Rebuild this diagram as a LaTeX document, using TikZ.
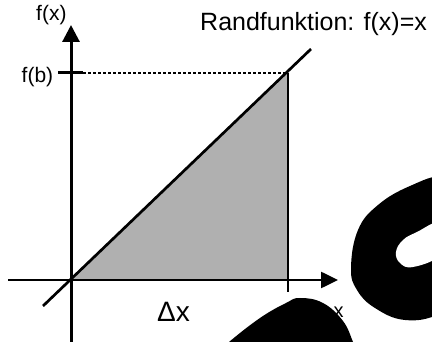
\documentclass[tikz,border=0pt]{standalone}
\usepackage{fontspec}
\setmainfont{Liberation Sans}
\usetikzlibrary{arrows.meta}
\begin{document}
\begin{tikzpicture}[x=1pt,y=-1pt,
  axis/.style={line width=3pt,-{Triangle[length=17pt,width=17pt]}},
  lbl/.style={inner sep=0pt,anchor=base west},
  blob/.style={fill=black,draw=none}]
\useasboundingbox (0,0) rectangle (432,342);
% coordinates
\coordinate (O) at (71,280);
\coordinate (ytop) at (71,25);
\coordinate (ybot) at (71,342);
\coordinate (xleft) at (8,280);
\coordinate (xright) at (338,280);
\coordinate (B) at (288,73);
\coordinate (Bx) at (288,280);
\coordinate (Bt) at (288,292);
\coordinate (fbL) at (58,73);
\coordinate (fbR) at (83,73);
\coordinate (dstart) at (43,306);
\coordinate (dend) at (311,49);
% shaded area
\fill[fill={rgb,255:red,176;green,176;blue,176}] (O) -- (B) -- (Bx) -- cycle;
% axes
\draw[line width=2.6pt,-{Triangle[length=17pt,width=16pt]}] (xleft) -- (xright);
\draw[axis] (ybot) -- (ytop);
% diagonal
\draw[line width=2.7pt] (dstart) -- (dend);
% right edge
\draw[line width=1.7pt] (B) -- (Bt);
% f(b) tick and dashed line
\draw[line width=3pt] (fbL) -- (fbR);
\draw[line width=1.1pt,dash pattern=on 3pt off 2pt] (fbR) -- (B);
% labels
\node[lbl,font=\fontsize{21}{21}\selectfont] (fx) at (36,21) {f(x)};
\node[lbl,font=\fontsize{21}{21}\selectfont] (fb) at (21.5,83) {f(b)};
\node[lbl,font=\fontsize{25}{25}\selectfont] (rf) at (200,31) {Randfunktion: f(x)=x};
\node[lbl,font=\fontsize{28}{28}\selectfont] (dx) at (157,322) {Δx};
% blobs
\begin{scope}
\clip (0,0) rectangle (432,342);
\fill[black] plot[smooth cycle,tension=0.7] coordinates {(351,268) (358,230) (378,205) (410,186) (445,176) (475,190) (480,290) (440,314) (405,320) (375,308) (357,290)};
\fill[white] plot[smooth cycle,tension=0.7] coordinates {(396,252) (403,240) (417,232) (440,222) (452,236) (440,256) (413,267) (400,263)};
\fill[black] plot[smooth,tension=0.7] coordinates {(222,350) (229,342) (260,318) (286,303) (300,298) (323,303) (343,321) (353,342) (356,350)} -- cycle;
\end{scope}
\node[lbl,font=\fontsize{20}{20}\selectfont] (xl) at (333.5,318) {x};
\end{tikzpicture}
\end{document}
